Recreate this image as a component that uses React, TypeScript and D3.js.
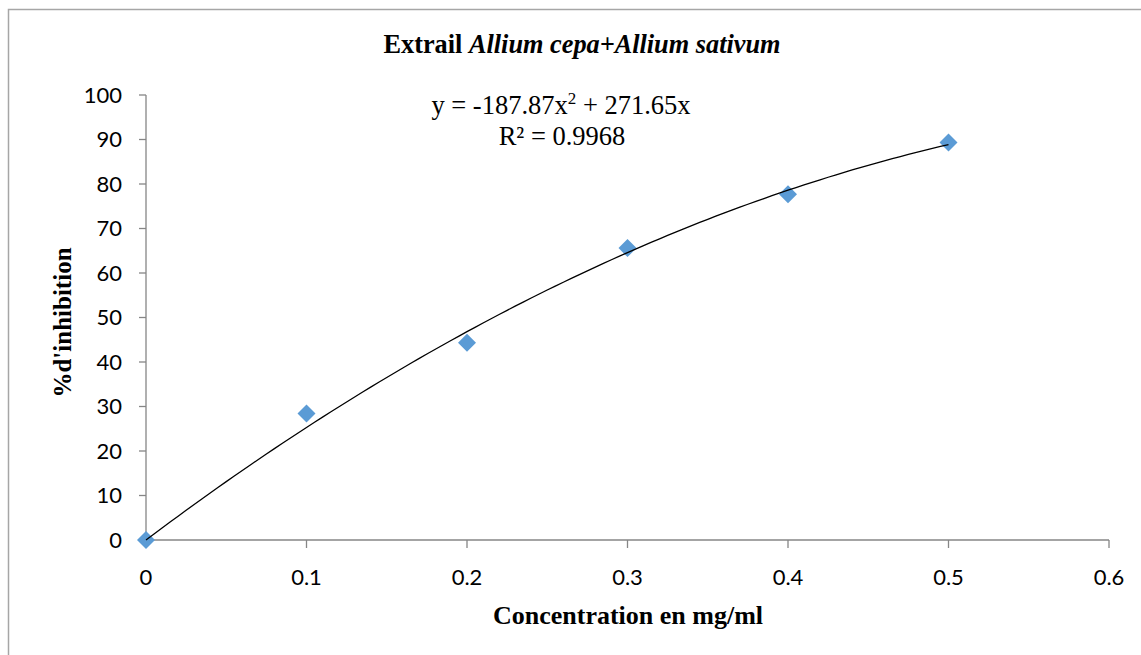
import React from 'react';
import * as d3 from 'd3';

const concentrations = [0, 0.1, 0.2, 0.3, 0.4, 0.5];
const inhibition = [0, 28.4, 44.3, 65.6, 77.7, 89.3];
const xTicks = [0, 0.1, 0.2, 0.3, 0.4, 0.5, 0.6];
const yTicks = [0, 10, 20, 30, 40, 50, 60, 70, 80, 90, 100];
// trendline coefficients as printed on the chart: y = a x^2 + b x
const trendCoef = [-187.87, 271.65];

const W = 1141;
const H = 655;
const plot = { left: 146, right: 1109, top: 95, bottom: 540 };

export default function App() {
  const x = d3.scaleLinear().domain([0, 0.6]).range([plot.left, plot.right]);
  const y = d3.scaleLinear().domain([0, 100]).range([plot.bottom, plot.top]);

  const trendX = d3.range(0, 0.5001, 0.005);
  const line = d3
    .line<number>()
    .x((d) => x(d))
    .y((d) => y(trendCoef[0] * d * d + trendCoef[1] * d))
    .curve(d3.curveMonotoneX);

  const axisColor = '#868686';
  const tickFont = 'Lato, "Open Sans", sans-serif';
  const serif = '"Liberation Serif", "Times New Roman", serif';

  return (
    <svg
      width={W}
      height={H}
      style={{ position: 'absolute', left: 0, top: 0 }}
    >
      <rect x={0} y={0} width={W} height={H} fill="#fff" />
      <rect x={8.5} y={9.5} width={W + 20} height={H + 20} fill="none" stroke="#a6a6a6" strokeWidth={1.5} />

      <text x={582} y={53} textAnchor="middle" fontFamily={serif} fontSize={26.3} fontWeight="bold">
        Extrail <tspan fontStyle="italic">Allium cepa+Allium sativum</tspan>
      </text>

      {/* axes */}
      <line x1={plot.left} x2={plot.left} y1={plot.top} y2={plot.bottom} stroke={axisColor} strokeWidth={1.3} />
      <line x1={plot.left} x2={plot.right} y1={plot.bottom} y2={plot.bottom} stroke={axisColor} strokeWidth={1.3} />
      {yTicks.map((t) => (
        <g key={'y' + t}>
          <line x1={plot.left - 7} x2={plot.left} y1={y(t)} y2={y(t)} stroke={axisColor} strokeWidth={1.3} />
          <text x={122} y={y(t)} dy="0.36em" textAnchor="end" fontFamily={tickFont} fontSize={22}>
            {t}
          </text>
        </g>
      ))}
      {xTicks.map((t) => (
        <g key={'x' + t}>
          <line x1={x(t)} x2={x(t)} y1={plot.bottom} y2={plot.bottom + 8} stroke={axisColor} strokeWidth={1.3} />
          <text x={x(t)} y={585} textAnchor="middle" fontFamily={tickFont} fontSize={22}>
            {t}
          </text>
        </g>
      ))}

      {/* data points */}
      {concentrations.map((c, i) => {
        const cx = x(c);
        const cy = y(inhibition[i]);
        const r = 9;
        return (
          <path
            key={'p' + i}
            d={`M${cx},${cy - r}L${cx + r},${cy}L${cx},${cy + r}L${cx - r},${cy}Z`}
            fill="#5b9bd5"
          />
        );
      })}

      {/* trendline */}
      <path d={line(trendX) || ''} fill="none" stroke="#000" strokeWidth={1.3} />

      <text x={561} y={114} textAnchor="middle" fontFamily={serif} fontSize={26.5}>
        y = -187.87x<tspan dy={-10} fontSize={17}>2</tspan>
        <tspan dy={10}> + 271.65x</tspan>
      </text>
      <text x={562} y={145} textAnchor="middle" fontFamily={serif} fontSize={26.5}>
        R² = 0.9968
      </text>

      <text x={628} y={624} textAnchor="middle" fontFamily={serif} fontSize={26} fontWeight="bold">
        Concentration en mg/ml
      </text>
      <text
        transform={`translate(71,${(plot.top + plot.bottom) / 2 + 5}) rotate(-90)`}
        textAnchor="middle"
        fontFamily={serif}
        fontSize={25}
        fontWeight="bold"
      >
        %d'inhibition
      </text>
    </svg>
  );
}
